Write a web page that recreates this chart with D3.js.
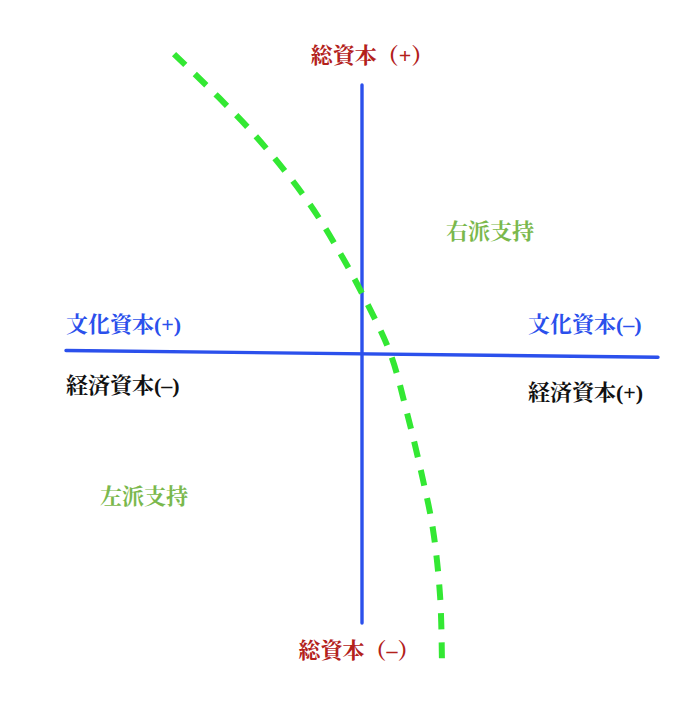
<!DOCTYPE html>
<html>
<head>
<meta charset="utf-8">
<script src="https://cdn.jsdelivr.net/npm/d3@7"></script>
<style>
body { margin: 0; background: #fff; }
text { font-family: "Liberation Serif", "Noto Serif CJK JP", "Noto Sans CJK JP", serif; font-weight: bold; }
</style>
</head>
<body>
<svg width="693" height="705"></svg>
<script>
// axis ends in data units (-10..10 both ways)
var vAxis = [[0, -10], [0, 10]];
var hAxis = [[-10, 0.13], [10, -0.12]];

// dashed boundary
var curveX = [-6.35, -3.78, -1.86, -0.74, 0.03, 0.95, 1.52, 2.06, 2.40, 2.64, 2.70];
var curveY = [11.15, 8.33, 5.72, 3.75, 2.19, 0.04, -2.19, -4.68, -6.54, -9.03, -11.38];

var topLabel = "総資本（+）",
    bottomLabel = "総資本（–）";
var leftLabels = ["文化資本(+)", "経済資本(–)"];
var rightLabels = ["文化資本(–)", "経済資本(+)"];
var zoneLabels = ["右派支持", "左派支持"];

var svg = d3.select("svg");

var x = d3.scaleLinear().domain([-10, 10]).range([66, 658]),
    y = d3.scaleLinear().domain([-10, 10]).range([623, 85]);

var line = d3.line()
  .x(function(d) { return x(d[0]); })
  .y(function(d) { return y(d[1]); });

var blue = "#2b50ec";

svg.append("path")
  .attr("d", line(vAxis))
  .attr("fill", "none")
  .attr("stroke", blue)
  .attr("stroke-width", 3.4)
  .attr("stroke-linecap", "round");

svg.append("path")
  .attr("d", line(hAxis))
  .attr("fill", "none")
  .attr("stroke", blue)
  .attr("stroke-width", 3.4)
  .attr("stroke-linecap", "round");

var pts = curveX.map(function(v, i) { return [v, curveY[i]]; });

svg.append("path")
  .attr("d", line.curve(d3.curveCatmullRom)(pts))
  .attr("fill", "none")
  .attr("stroke", "#33e833")
  .attr("stroke-width", 6)
  .attr("stroke-dasharray", "16,13");

// labels
var red = "#b3211b", green = "#7ab84c";

svg.append("text")
  .attr("x", 372).attr("y", 63)
  .attr("text-anchor", "middle")
  .attr("font-size", 22)
  .attr("fill", red)
  .text(topLabel);

svg.append("text")
  .attr("x", 359).attr("y", 658)
  .attr("text-anchor", "middle")
  .attr("font-size", 22)
  .attr("fill", red)
  .text(bottomLabel);

svg.append("text")
  .attr("x", 66).attr("y", 332)
  .attr("font-size", 22)
  .attr("fill", blue)
  .text(leftLabels[0]);

svg.append("text")
  .attr("x", 66).attr("y", 393)
  .attr("font-size", 22)
  .attr("fill", "#111")
  .text(leftLabels[1]);

svg.append("text")
  .attr("x", 528).attr("y", 332)
  .attr("font-size", 22)
  .attr("fill", blue)
  .text(rightLabels[0]);

svg.append("text")
  .attr("x", 528).attr("y", 400)
  .attr("font-size", 22)
  .attr("fill", "#111")
  .text(rightLabels[1]);

svg.append("text")
  .attr("x", 446).attr("y", 239)
  .attr("font-size", 22)
  .attr("fill", green)
  .text(zoneLabels[0]);

svg.append("text")
  .attr("x", 100).attr("y", 504)
  .attr("font-size", 22)
  .attr("fill", green)
  .text(zoneLabels[1]);
</script>
</body>
</html>
